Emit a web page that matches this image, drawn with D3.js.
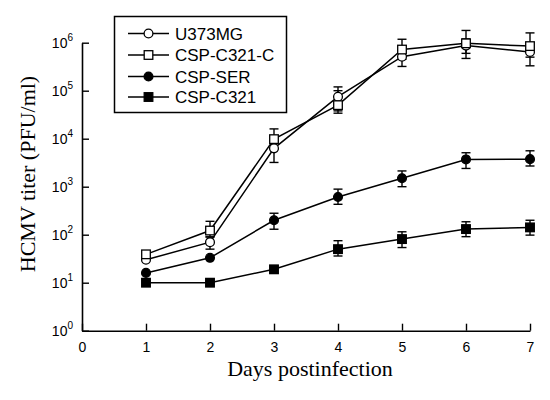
<!DOCTYPE html>
<html>
<head>
<meta charset="utf-8">
<script src="https://cdn.jsdelivr.net/npm/d3@7"></script>
<style>
  html, body { margin: 0; padding: 0; background: #fff; }
  svg { display: block; }
</style>
</head>
<body>
<svg id="chart" width="550" height="400"></svg>
<script>
// ---------- data ----------
const days = [1, 2, 3, 4, 5, 6, 7];
const seriesNames = ["U373MG", "CSP-C321-C", "CSP-SER", "CSP-C321"];
const u373mg      = [30, 70, 6300, 75000, 510000, 870000, 640000];
const u373mgLow   = [30, 50, 3200, 34000, 320000, 470000, 330000];
const u373mgHigh  = [30, 90, 9000, 100000, 700000, 1200000, 1000000];
const cspC321C     = [39, 122, 9800, 50000, 720000, 970000, 850000];
const cspC321CLow  = [39, 90, 6000, 38000, 450000, 600000, 500000];
const cspC321CHigh = [39, 190, 16000, 120000, 1180000, 1800000, 1600000];
const cspSer      = [16, 33, 200, 610, 1500, 3700, 3750];
const cspSerLow   = [16, 33, 130, 430, 1000, 2400, 2700];
const cspSerHigh  = [16, 33, 280, 890, 2130, 5100, 5600];
const cspC321     = [10, 10, 19, 50, 81, 131, 142];
const cspC321Low  = [10, 10, 19, 36, 54, 91, 98];
const cspC321High = [10, 10, 19, 75, 115, 186, 200];
const xTicks = [0, 1, 2, 3, 4, 5, 6, 7];
const yTickExps = [0, 1, 2, 3, 4, 5, 6];
const xTitle = "Days postinfection";
const yTitle = "HCMV titer (PFU/ml)";

const series = [
  { name: seriesNames[0], v: u373mg, lo: u373mgLow, hi: u373mgHigh, shape: "circle", fill: "#fff" },
  { name: seriesNames[1], v: cspC321C, lo: cspC321CLow, hi: cspC321CHigh, shape: "square", fill: "#fff" },
  { name: seriesNames[2], v: cspSer, lo: cspSerLow, hi: cspSerHigh, shape: "circle", fill: "#000" },
  { name: seriesNames[3], v: cspC321, lo: cspC321Low, hi: cspC321High, shape: "square", fill: "#000" }
];

// ---------- layout ----------
const svg = d3.select("#chart");
const x = d3.scaleLinear().domain([0, 7]).range([82, 530]);
const y = d3.scaleLog().domain([1, 1e6]).range([330.7, 42.7]);

const sansFont = "Arial, 'Liberation Sans', sans-serif";
const serifFont = "'Times New Roman', 'Liberation Serif', serif";

// x axis
const xAxis = svg.append("g").attr("transform", `translate(0,${y(1)})`)
  .call(d3.axisBottom(x).tickValues(xTicks).tickFormat(d3.format("d"))
    .tickSize(-7).tickPadding(11).tickSizeOuter(0));
xAxis.select(".domain").attr("stroke", "#000").attr("stroke-width", 1.6);
xAxis.selectAll(".tick line").attr("stroke", "#000").attr("stroke-width", 1.4);
xAxis.selectAll(".tick text").attr("font-family", sansFont).attr("font-size", 14).attr("fill", "#000");

// y axis
const yAxis = svg.append("g").attr("transform", `translate(${x(0)},0)`)
  .call(d3.axisLeft(y).tickValues(yTickExps.map(e => Math.pow(10, e))).tickSize(-7).tickSizeOuter(0).tickFormat(""));
yAxis.select(".domain").attr("stroke", "#000").attr("stroke-width", 1.6);
yAxis.selectAll(".tick line").attr("stroke", "#000").attr("stroke-width", 1.4);

// y tick labels with superscripts
const yLab = svg.append("g");
yTickExps.forEach(e => {
  const t = yLab.append("text")
    .attr("x", 73).attr("y", y(Math.pow(10, e)) + 5)
    .attr("text-anchor", "end")
    .attr("font-family", sansFont).attr("font-size", 14).attr("fill", "#000");
  t.append("tspan").text("10");
  t.append("tspan").attr("dy", -7).attr("font-size", 10).text(String(e));
});

// titles
svg.append("text")
  .attr("x", (x(0) + x(7)) / 2 + 4).attr("y", 376)
  .attr("text-anchor", "middle")
  .attr("font-family", serifFont).attr("font-size", 22).attr("fill", "#000")
  .text(xTitle);
svg.append("text")
  .attr("transform", `translate(35,174) rotate(-90)`)
  .attr("text-anchor", "middle")
  .attr("font-family", serifFont).attr("font-size", 22).attr("fill", "#000")
  .text(yTitle);

// ---------- marks ----------
function drawMarker(g, shape, fill, cx, cy) {
  if (shape === "circle") {
    g.append("circle").attr("cx", cx).attr("cy", cy).attr("r", 4.4)
      .attr("fill", fill).attr("stroke", "#000").attr("stroke-width", 1.3);
  } else {
    const s = 8.6;
    g.append("rect").attr("x", cx - s / 2).attr("y", cy - s / 2).attr("width", s).attr("height", s)
      .attr("fill", fill).attr("stroke", "#000").attr("stroke-width", 1.3);
  }
}

const line = d3.line().x(d => x(d[0])).y(d => y(d[1]));
const plot = svg.append("g");

series.forEach(s => {
  const g = plot.append("g");
  days.forEach((d, i) => {
    if (s.hi[i] > s.v[i] * 1.05 || s.lo[i] < s.v[i] * 0.95) {
      const cx = x(d);
      g.append("line").attr("x1", cx).attr("x2", cx).attr("y1", y(s.lo[i])).attr("y2", y(s.hi[i]))
        .attr("stroke", "#000").attr("stroke-width", 1.4);
      [s.lo[i], s.hi[i]].forEach(val => {
        g.append("line").attr("x1", cx - 4.5).attr("x2", cx + 4.5).attr("y1", y(val)).attr("y2", y(val))
          .attr("stroke", "#000").attr("stroke-width", 1.4);
      });
    }
  });
  g.append("path").datum(days.map((d, i) => [d, s.v[i]]))
    .attr("d", line).attr("fill", "none").attr("stroke", "#000").attr("stroke-width", 1.5);
});
series.forEach(s => {
  const g = plot.append("g");
  days.forEach((d, i) => drawMarker(g, s.shape, s.fill, x(d), y(s.v[i])));
});

// ---------- legend ----------
const leg = svg.append("g");
leg.append("rect").attr("x", 114.5).attr("y", 16.5).attr("width", 172).attr("height", 96)
  .attr("fill", "#fff").attr("stroke", "#000").attr("stroke-width", 1.5);
const legY = [33.5, 55, 76.5, 97];
series.forEach((s, i) => {
  const ly = legY[i];
  leg.append("line").attr("x1", 128).attr("x2", 169).attr("y1", ly).attr("y2", ly)
    .attr("stroke", "#000").attr("stroke-width", 1.5);
  drawMarker(leg, s.shape, s.fill, 148.5, ly);
  leg.append("text").attr("x", 175).attr("y", ly + 6)
    .attr("font-family", sansFont).attr("font-size", 17).attr("fill", "#000")
    .text(s.name);
});
</script>
</body>
</html>
